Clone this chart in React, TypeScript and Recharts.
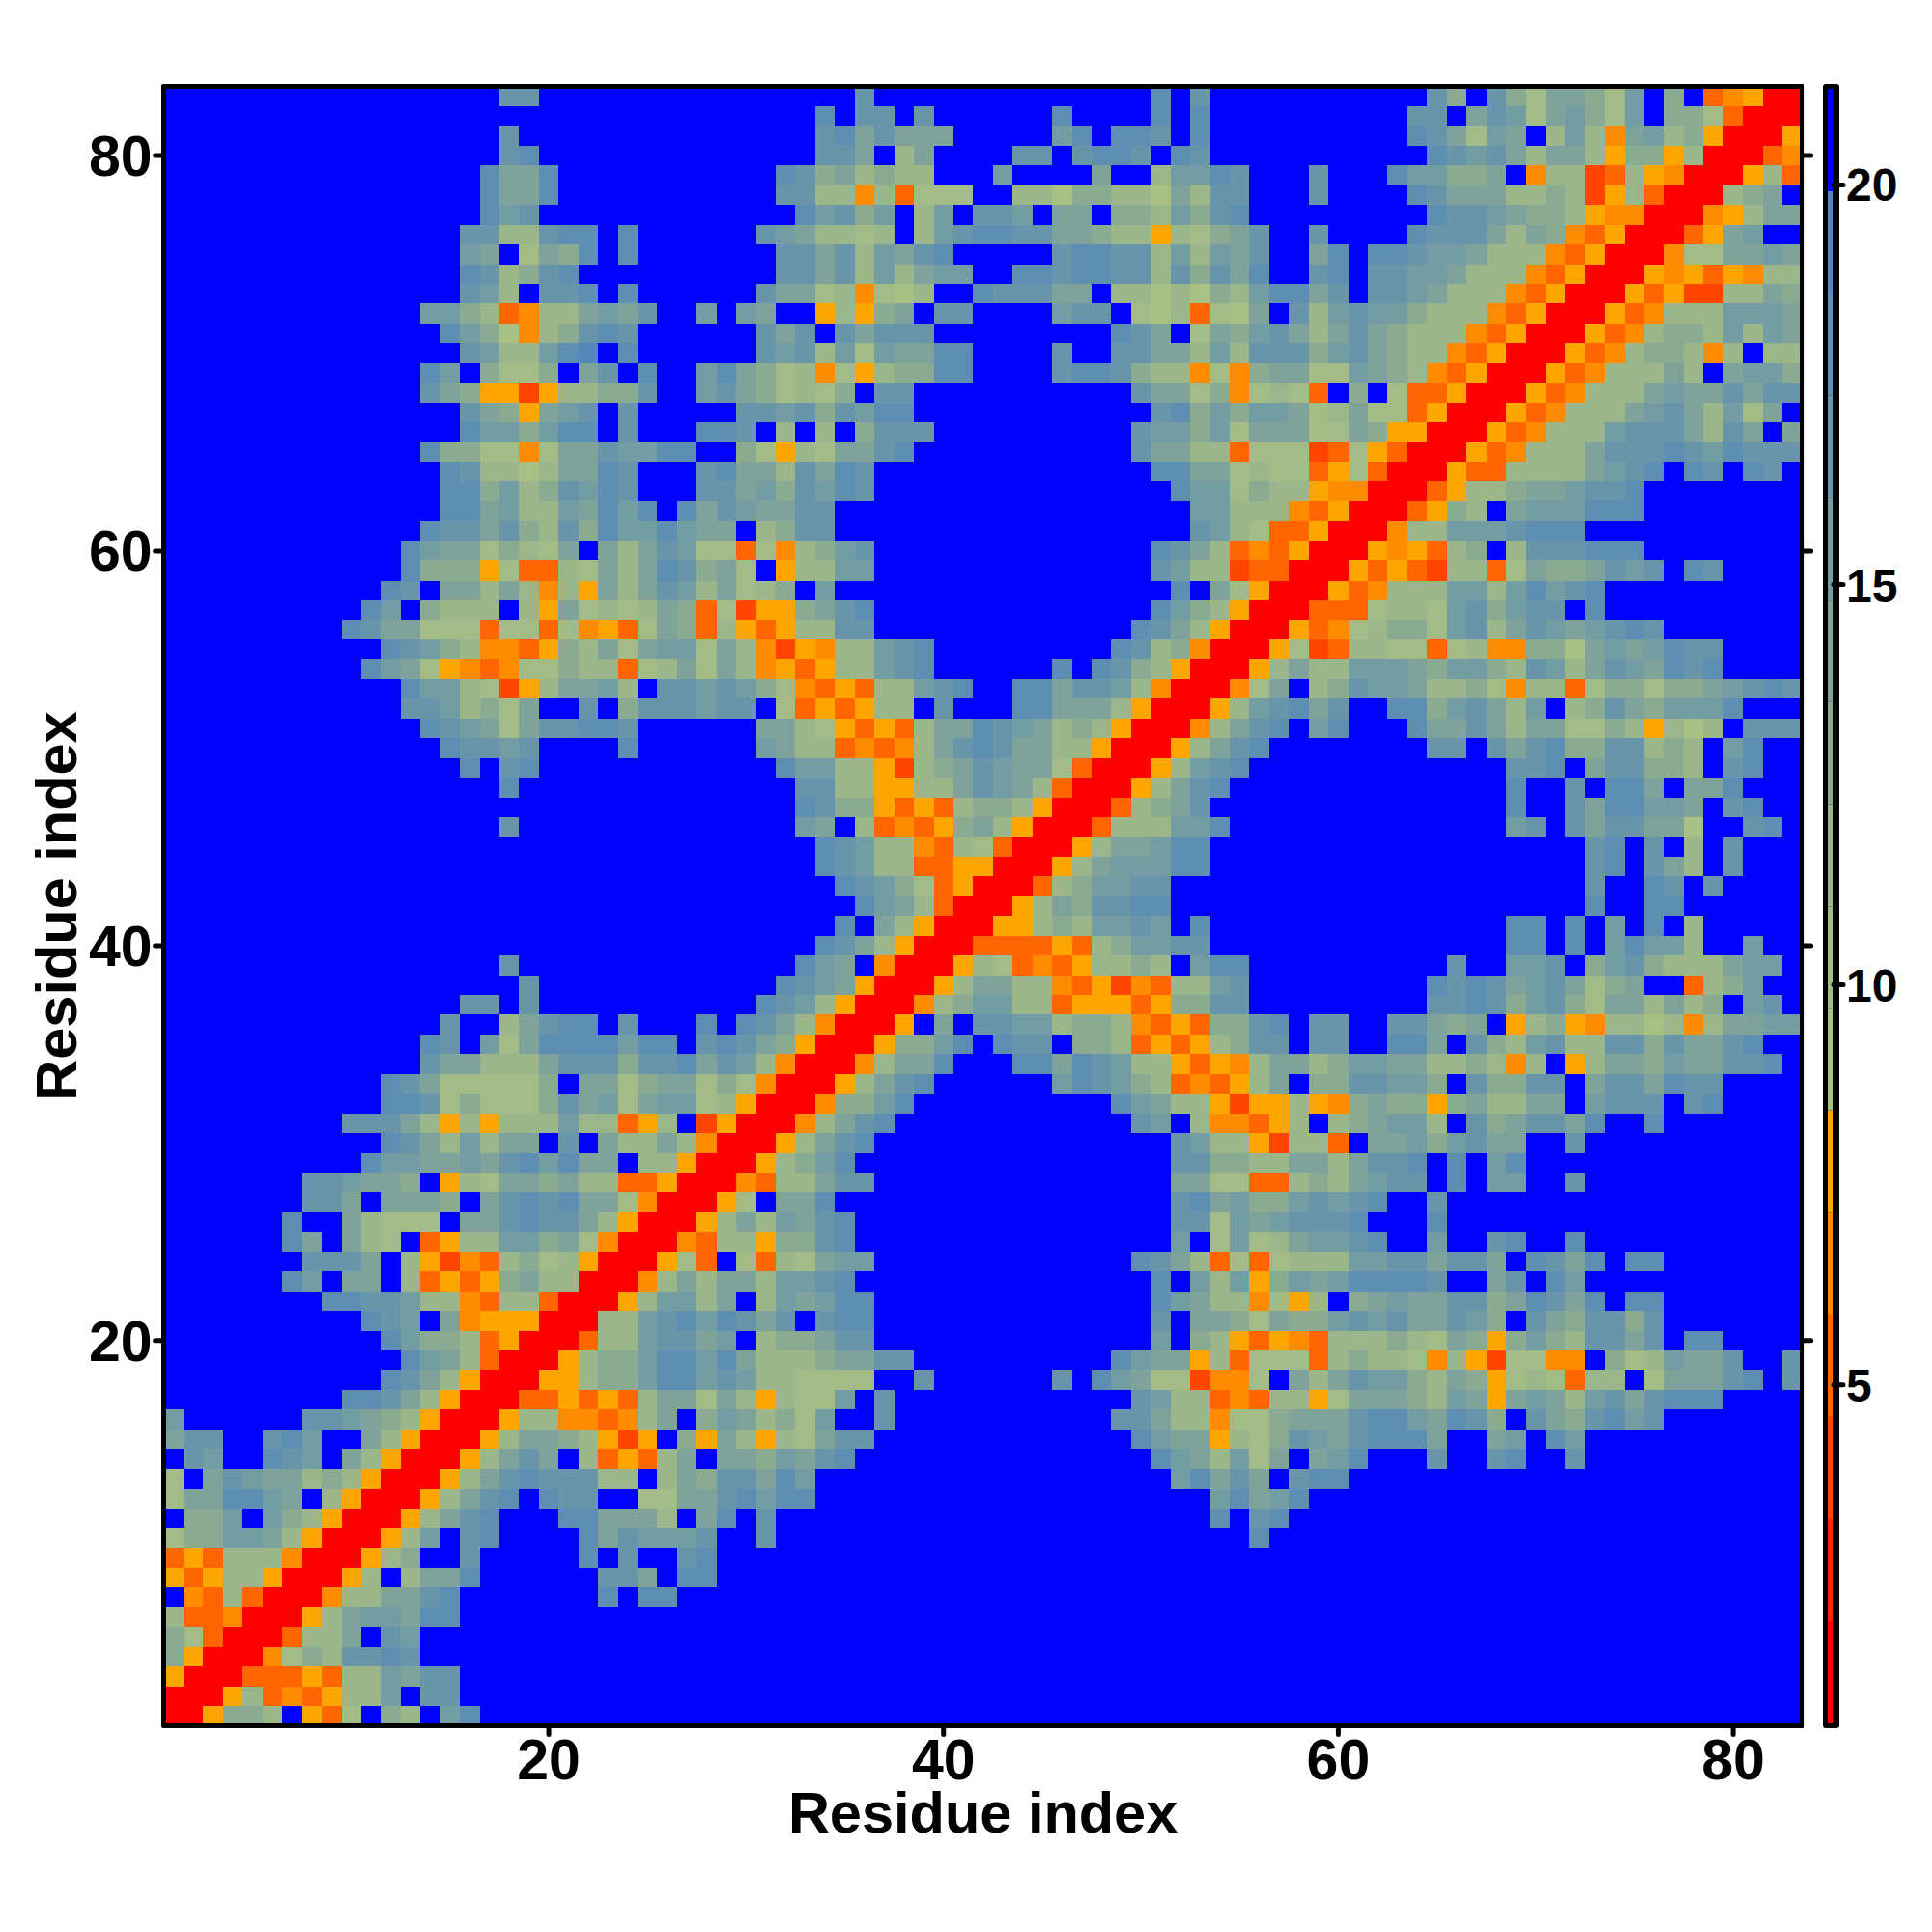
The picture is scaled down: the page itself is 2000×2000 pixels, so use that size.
import { Bar, BarChart, Scatter, ScatterChart, XAxis, YAxis } from "recharts";

const residueTicks = [20, 40, 60, 80];
const barTicks = [5, 10, 15, 20];
const bandEdges = [0.77, 2.05, 3.33, 4.6, 5.88, 7.15, 8.43, 9.71, 10.98, 12.26, 13.54, 14.81, 16.09, 17.37, 18.64, 19.92, 21.2];
const bandValues = [1.4, 2.7, 4, 5.2, 6.5, 7.8, 9.1, 10.3, 11.6, 12.9, 14.2, 15.4, 16.7, 18, 19.3, 20.6];
const bandColors = [
  "#ff0000", "#ff2200", "#ff4500", "#ff6500", "#ff8c00", "#ffa500",
  "#a9c084", "#a2bb87", "#9ab68a", "#8aab92", "#7fa39a", "#749ca3",
  "#6995ab", "#5f8eb3", "#5587bb", "#0000ff"
];
const bandCodes = "0123456789abcde";

// one line per residue, y = 83 at the top; groups of ten columns; "." is the top (blue) band
const rows = [
  ".......... .......cc. .......... .....c.... .......... d.c....... ....c9.c97 aa97b.9.34 500",
  ".......... .......... .......... ...d.cc.c. .....d.... d.d....... ...cc.acb7 ab97b.9973 000",
  ".......... .......c.. .......... ...cdacaaa .....bd.dd c.d....... ...dca7ba. 8b84ab8950 005",
  ".......... .......cd. .......... ...cca.8a. ...cc.cddc .dc....... ....dcbca8 aa85995800 034",
  ".......... ......daad .......... .dc9a8988. ..b....a.. 8bbdc...c. ..dbb99a.4 8823854000 583",
  ".......... ......daad .......... .cc8848377 7..8869988 6a8cc...c. ...dcaaa88 9825830008 9a.",
  ".......... ......dbc. .......... ..dbc9b.8b .ccb.aa.99 8b9cd..... ....dccba9 9854400045 8aa",
  ".......... .....cc88c dd.d...... cba8878.8b cddccaa988 5879ac..c. ...dccca8a 943500035a b..",
  ".......... .....ba.7a 9d.d...... .ccac8bacd .....cddcc 8b8bac..ad .ddcbba888 435000477a aba",
  ".......... .....dc89c d......... .ccac8b8ab b..ddcddcc 8c9cad..cd .ccbba8884 3500054535 488",
  ".......... .....cb8.c cd.d...... caa784768. .dcccaa.88 68698bddac .ccba88843 5000535228 8a9",
  ".......... ...bb98348 8abac..b.b a..5859a.c c....bcc.7 68376a.c8b cbb9888435 000534888b bba",
  ".......... ....db9648 9cdc...... cac.caccc. ........dc a.7a9bca8a ca98884350 005348998b 8ba",
  ".......... .....cb88b de.d...... cbc8b7baad d....c..cc aa8b8ccc9b ca98843500 0534899848 .88",
  ".......... ...db.9779 .ac.d..bda 978475899d d....cddc9 884749aa77 ba98435000 534888a8.a bb9",
  ".......... ...ca95525 8899c..bca 97879.cc.. .........c aa7947873. 9.73350005 34888abaac acc",
  ".......... .....ca95a bc.c.....c cbc9cbdd.. .......... cd9b9bba78 a773500053 4888abca8b 7a.",
  ".......... .....dbb9b dd.c...ddc .8.8.9ccc. .........c bb9b7aaa77 a955000534 888bccca8c a.a",
  ".......... ...d997747 aacbbdd..9 7587aacd.. .........c aa88377723 7530005348 88acccdcbd ccc",
  ".......... ....dc8868 aadc...cda a8cadc.... .......... ddaa787735 7300053388 88abcd.dc. dc.",
  ".......... ....dd9b89 cbdc...cca b9cbdc.... .......... .dbb798854 400035889a abccd..... ...",
  ".......... ....ddab88 badbd.dacb aacc...... .......... ..bb888435 0003598.ab bbddd..... ...",
  ".......... ...dccac98 c9dbbdbaa. 89cc...... .......... ..cb873350 00488bbbcd dd........ ...",
  ".......... ..dbaa7987 a.a8acb773 7489bc.... .......... dca8343500 0545389.8c ccddd..... ...",
  ".......... ..d9995733 87a8adc9a7 .588bb.... .......... cb88233000 535328837a 99acbc.dc. ...",
  ".......... .dc.aa8a84 85a8acb8a7 89.b...... .......... .d.a750005 34888bb8bd bcd....... ...",
  ".......... db.9888.85 a7878a9372 559acd.... .......... db98500033 37887bc9bc c.d....... ...",
  ".........d caa7773773 74537a9385 3588cc.... .........d ca85000534 78997bc8ac babcdc.... ...",
  ".......... .dcb984435 98a7abb7a8 425488bcd. ........dc 8940005723 8877378449 96ababdcc. ...",
  ".......... dba7543477 988378a7a8 453588bcd. .....d.dc9 8500058a88 bbba9bb98c b8acbadcd. ...",
  ".......... ..dbb87258 aab8.ccbcb 97435388bc d..ddaccb8 400047a.89 cbba889748 83799799ab cdc",
  ".......... ..ccb897a. .c.9cccbcc .7353588.c ...ddaaa85 00058bcdac ..dd9bca8b .89ca9bbbd ...",
  ".......... ...dcba7ac cddc...... aa8753538a adcba89850 0048acd.bd ...daaca8a a77985868. ccc",
  ".......... ....dccbc. ...d...... ba8834348a cdcaa88500 058acd.... ....cc.cac d99cc898.b d..",
  ".......... .....d.cd. .......... .dbb885289 acbaa73000 58bcd..... ........cc d.acc998.c d..",
  ".......... .......d.. .......... ..cc885588 acba830005 8acd...... ........d. .c.dda.aad ...",
  ".......... .......... .......... ..dc995353 8998500038 9ac....... ........d. .caddbba.c d..",
  ".......... .......c.. .......... ..ba.83435 9a85000388 8bbd...... ........bc .caccaa6.. cd.",
  ".......... .......... .......... ...dcb8843 87300058aa bdd....... .......... ..cd.c.8.c ...",
  ".......... .......... .......... ...dcb8833 5500058abb bdd....... .......... ..cd.ca8.c ...",
  ".......... .......... .......... ....dcb973 5000389bbc c......... .......... ..c..dc.c. ...",
  ".......... .......... .......... .....dba83 00058a9ccd d......... .......... ..d..dd... ...",
  ".......... .......... .......... ....d.a850 0055898bbc b.d....... ........dd .d.b.d.8.. ...",
  ".......... .......... .......... ...dca8500 033335389b bcc....... ........dd .d.bdbb8.. b..",
  ".......... .......c.. .......... ..dba.4000 5873435889 8.bdd..... .....c..bb c.9bc9888a bb.",
  ".......... ........c. .......... .dcba50005 8aa8843524 388bc..... ....dcdcab ca79a..389 b..",
  ".......... .....cc.c. .......... dcb8500048 9bb8835553 599cc..... ....ccdc9b c97aa8a89. bc.",
  ".......... ....c..8ac dd.c...d.d ca840005.a .ccbb89984 35399cd.cc ..cca9a.58 954886848a abb",
  ".......... ...dc.b7ad dddbdd.cdc a95000599b d.dcc.9983 53589cc.cc ..dda.c98b c88cc9caac d..",
  ".......... ...caa888a ccc9ccdacb 8400048aad ...ddadcb8 853548aa89 bbaa889848 .58aa9baac cd.",
  ".......... .dca777779 .aa79aa797 400058acd. .....bdcb9 834358a.99 ccbb9.c99c c.accadcc. ...",
  ".......... .ddc797779 cab7abb785 000499bd.. ........db a885255854 9a9959a88a a.bccc.cd. ...",
  ".........c cca8585888 b88358.250 0048acd... .........c b.844358.8 9abb8.c9ac cad..d.... ...",
  ".......... .dca8b8aa. c.a88a8400 058acd.... .......... .cb8852883 .aab9bcaa. .c........ ...",
  ".......... dbbaabacdb daa.885000 589bd..... .......... .cc9988aa8 accd.d.bd. .......... ...",
  ".......ccb aa9.587aa9 a883350004 388acc.... .......... .aa7733898 abcc.d.bb. .c........ ...",
  ".......cca .aaa9.acdc daa7400057 .aad...... .......... .cdab99bcb cd..c..... .......... ...",
  "......d..a 8777.aacdc ca8500058a 8bacd..... .......... .cc7babccc d...d..... .......... ...",
  "......da.a 87.3588bb9 a740004388 599cd..... .......... .b.7b78abb cd..b..cd. .d........ ...",
  ".......ccc a.85243897 85000573.7 387abb.... .........d ca83737888 bbccacca.d cad.dd.... ...",
  "......db.a a.835359a8 800048a8aa 8bbcd..... .......... d.b8b59bab ddddc..ac. db........ ...",
  "........dd ccb8843883 00058bb8a. 8babdd.... .......... dba884758. 9abaacc9ad cad.dd.... ...",
  ".......... dcb.a45550 0088bcdbdc ac.cdd.... .......... c.aa97a99b cbcaacb9.c a9cc9c.... ...",
  ".......... .db9983500 0388bccab. 899acc.... .......... b.98535438 88987a959b 98ccac.dd. ...",
  ".......... ..dba83000 5899bddbda 8889aacc.. ........db aa58377738 9887485277 44.978baac ..c",
  ".......... .dca850005 5899bddbcb 887777..c. .....c.dba 772447.a8a cbb98a9578 7388.7aaac d.c",
  ".........d dca8500033 53538aa7a8 5877b.c... .........c b883438857 aaa98ba5ab a8bcacddd. ...",
  "b......ccb a985000588 44348a.9ba 897b..c... ........cc a884779aaa cddbadc9.c a9cdbc.... ...",
  "acc..cdb.. a8500058aa 98525.95a8 587acc.... .........d baa5879cba cddda..ab. db........ ...",
  ".cb..dcb.a 8500058aca .83538a.aa 9bacd..... .......... dba8b7a.ab d...c..cd. .c........ ...",
  "7.acbaa898 500058acdc cc88.8a9cc adb....... .......... .bdaca.cdd .......... .......... ...",
  "7aaddba.85 00058acd.d cc..77aacd bdd....... .......... ...bdabd.. .......... .......... ...",
  ".99b.b9850 0058acd... ddaaa8.ad. c......... .......... ...d.cd... .......... .......... ...",
  "799bba8500 058b.cd... .dacbbbc.. c......... .......... .....d.... .......... .......... ...",
  "3538884000 589..c.... .d.c..cd.. .......... .......... .......... .......... .......... ...",
  "5358850005 8.8aad.... ..cca.dd.. .......... .......... .......... .......... .......... ...",
  ".438300048 8aacd..... ..d.dd.... .......... .......... .......... .......... .......... ...",
  "833400058a bbadd..... .......... .......... .......... .......... .......... .......... ...",
  "973000388a .cb....... .......... .......... .......... .......... .......... .......... ...",
  "950004798c cdc....... .......... .......... .......... .......... .......... .......... ...",
  "5000333538 8bacc..... .......... .......... .......... .......... .......... .......... ...",
  "0005834358 8b.cc..... .......... .......... .......... .......... .......... .......... ...",
  "005998.537 .98.bd.... .......... .......... .......... .......... .......... .......... ..."
];

const bandOf = (code: string) => {
  const i = bandCodes.indexOf(code);
  return i < 0 ? 15 : i;
};

const cells = rows.flatMap((row, rowIndex) =>
  row
    .split(" ")
    .map((group) => group.padEnd(10, ".").slice(0, 10))
    .join("")
    .slice(0, 83)
    .split("")
    .map((code, colIndex) => ({
      x: colIndex + 1,
      y: 83 - rowIndex,
      value: bandValues[bandOf(code)],
      band: bandOf(code)
    }))
);

const bandRow: Record<string, number | string> = { name: "key" };
bandEdges.slice(1).forEach((edge, i) => {
  bandRow[`b${i}`] = i === 0 ? edge : edge - bandEdges[i];
});
const barData = [bandRow];

const font = "'Liberation Sans', Arial, Helvetica, sans-serif";
const tickLine = { stroke: "#000", strokeWidth: 5, strokeLinecap: "round" as const };
const axisLine = { stroke: "#000", strokeWidth: 5 };
const tickText = { fontFamily: font, fontSize: 59, fontWeight: 700, fill: "#000" };
const titleText = { fontFamily: font, fontSize: 59.5, fontWeight: 700, fill: "#000" };

const plotLeft = 169.6;
const plotTop = 89.5;
const plotWidth = 1696;
const plotHeight = 1697;
const cellW = plotWidth / 83;
const cellH = plotHeight / 83;

const HeatCell = (props: any) => {
  const band = props.payload?.band ?? props.band;
  return (
    <rect
      x={props.cx - cellW / 2}
      y={props.cy - cellH / 2}
      width={cellW + 0.4}
      height={cellH + 0.4}
      fill={bandColors[band]}
      shapeRendering="crispEdges"
    />
  );
};

const NoLabel = () => <g />;

export default function App() {
  return (
    <div style={{ position: "absolute", left: 0, top: 0, width: 2000, height: 2000, background: "#fff" }}>
      <div style={{ position: "absolute", left: 0, top: 0 }}>
        <ScatterChart
          width={2000}
          height={2000}
          margin={{ top: 0, right: 0, bottom: 0, left: 0 }}
        >
          <XAxis
            type="number"
            dataKey="x"
            domain={[0.5, 83.5]}
            ticks={residueTicks}
            allowDataOverflow
            height={2000 - plotTop - plotHeight}
            tick={tickText}
            tickSize={9}
            tickMargin={5}
            tickLine={tickLine}
            axisLine={axisLine}
            label={{ value: "Residue index", position: "insideTop", offset: 68, style: titleText }}
          />
          <XAxis
            xAxisId="top"
            orientation="top"
            type="number"
            domain={[0.5, 83.5]}
            ticks={residueTicks}
            allowDataOverflow
            height={plotTop}
            tick={NoLabel}
            tickSize={9}
            tickLine={tickLine}
            axisLine={axisLine}
          />
          <YAxis
            type="number"
            dataKey="y"
            domain={[0.5, 83.5]}
            ticks={residueTicks}
            allowDataOverflow
            width={plotLeft}
            tick={tickText}
            tickSize={9}
            tickMargin={3}
            tickLine={tickLine}
            axisLine={axisLine}
            label={{ value: "Residue index", angle: -90, position: "insideLeft", offset: 58, style: { ...titleText, textAnchor: "middle" } }}
          />
          <YAxis
            yAxisId="right"
            orientation="right"
            type="number"
            domain={[0.5, 83.5]}
            ticks={residueTicks}
            allowDataOverflow
            width={2000 - plotLeft - plotWidth}
            tick={NoLabel}
            tickSize={9}
            tickLine={tickLine}
            axisLine={axisLine}
          />
          <Scatter data={cells} shape={HeatCell} isAnimationActive={false} />
        </ScatterChart>
      </div>
      <div
        style={{
          position: "absolute",
          left: plotLeft - 2.5,
          top: plotTop - 2.5,
          width: plotWidth + 5,
          height: plotHeight + 5,
          boxSizing: "border-box",
          border: "5px solid #000",
          borderRadius: 2
        }}
      />
      <div style={{ position: "absolute", left: 1886.5, top: 87, width: 17.5, height: 1702, background: "#000", borderRadius: 3 }} />
      <div style={{ position: "absolute", left: 1892.3, top: 92 }}>
        <BarChart
          width={100}
          height={1692}
          data={barData}
          barCategoryGap={0}
          margin={{ top: 0, right: 0, bottom: 0, left: 0 }}
        >
          <XAxis dataKey="name" hide />
          <YAxis
            orientation="right"
            type="number"
            domain={[0.77, 21.2]}
            ticks={barTicks}
            allowDataOverflow
            width={94}
            tickSize={10}
            tickMargin={3}
            tickLine={tickLine}
            axisLine={false}
            tick={{ fontFamily: font, fontSize: 48, fontWeight: 700, fill: "#000", textAnchor: "start" }}
          />
          {bandColors.map((color, i) => (
            <Bar key={color} dataKey={`b${i}`} stackId="scale" fill={color} isAnimationActive={false} />
          ))}
        </BarChart>
      </div>
    </div>
  );
}
